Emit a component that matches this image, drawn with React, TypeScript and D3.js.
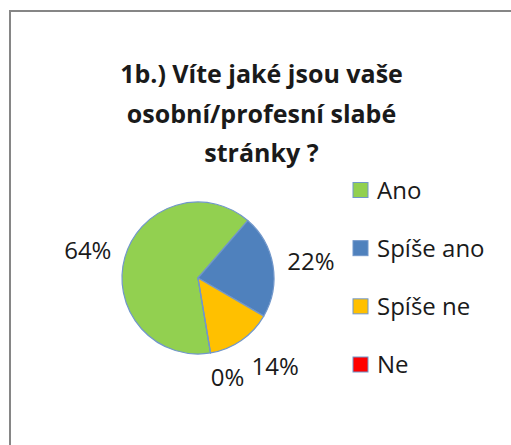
import React from "react";
import * as d3 from "d3";

const titleLines = ["1b.) Víte jaké jsou vaše", "osobní/profesní slabé", "stránky ?"];
const categories = ["Ano", "Spíše ano", "Spíše ne", "Ne"];
const values = [64, 22, 14, 0];
const colors = ["#92D050", "#4F81BD", "#FFC000", "#FF0000"];

const W = 511;
const H = 445;
const cx = 198;
const cy = 278;
const R = 76;
const startDeg = 170.5;
const FONT = "'Open Sans', Lato, sans-serif";
const LABEL_FS = 24;
const CAP = 0.714;

export default function App() {
  const total = d3.sum(values);
  const start = (startDeg * Math.PI) / 180;
  const pie = d3
    .pie<number>()
    .sort(null)
    .value((d) => d)
    .startAngle(start)
    .endAngle(start + 2 * Math.PI);
  const arcs = pie(values);
  const arc = d3.arc<d3.PieArcDatum<number>>().innerRadius(0).outerRadius(R);
  const anchorArc = d3.arc<d3.PieArcDatum<number>>().innerRadius(180).outerRadius(0);
  const fmt = d3.format(".0%");

  const legendY = d3.scalePoint<string>().domain(categories).range([190, 364.5]);

  // Excel-like "outside end": text box placed just outside the rim
  const labels = arcs.map((a) => {
    const txt = fmt(a.data / total);
    const [px, py] = anchorArc.centroid(a); // radius 90
    const m = (a.startAngle + a.endAngle) / 2;
    const hw = txt.length * 0.34 * LABEL_FS;
    const hh = 12;
    return { txt, x: px + hw * Math.sin(m), y: py - hh * Math.cos(m), zero: a.data === 0 };
  });
  // spread crowded labels next to a zero-valued slice
  labels.forEach((l, i) => {
    if (l.zero && i > 0) {
      l.x += 12;
      l.y -= 1.5;
      labels[i - 1].x += 12;
      labels[i - 1].y += 5;
    }
  });

  return (
    <svg
      width={W}
      height={H}
      style={{ position: "absolute", left: 0, top: 0, background: "#fff" }}
      fontFamily={FONT}
    >
      <rect x={0} y={0} width={W} height={H} fill="#fff" />
      <rect x={10} y={11} width={W + 20} height={H + 20} fill="#fff" stroke="#868686" strokeWidth={2} />
      <g fontWeight="bold" fontSize={25} fill="#1a1a1a" textAnchor="middle">
        {titleLines.map((t, i) => (
          <text key={i} x={261.5} y={83 + i * 39.5}>
            {t}
          </text>
        ))}
      </g>
      <g transform={`translate(${cx},${cy})`}>
        {arcs.map((a, i) => (
          <path key={i} d={arc(a) || ""} fill={colors[i]} stroke="#7197cb" strokeWidth={1.2} strokeLinejoin="round" />
        ))}
        {labels.map((l, i) => (
          <text
            key={"l" + i}
            x={l.x}
            y={l.y + (CAP * LABEL_FS) / 2}
            textAnchor="middle"
            fontSize={LABEL_FS}
            fill="#1a1a1a"
          >
            {l.txt}
          </text>
        ))}
      </g>
      <g>
        {categories.map((c, i) => (
          <g key={c} transform={`translate(353,${legendY(c)})`}>
            <rect x={0} y={-7.5} width={15} height={15} fill={colors[i]} stroke="#7197cb" strokeWidth={1} />
            <text x={24} y={(CAP * LABEL_FS) / 2} fontSize={LABEL_FS} fill="#1a1a1a">
              {c}
            </text>
          </g>
        ))}
      </g>
    </svg>
  );
}
